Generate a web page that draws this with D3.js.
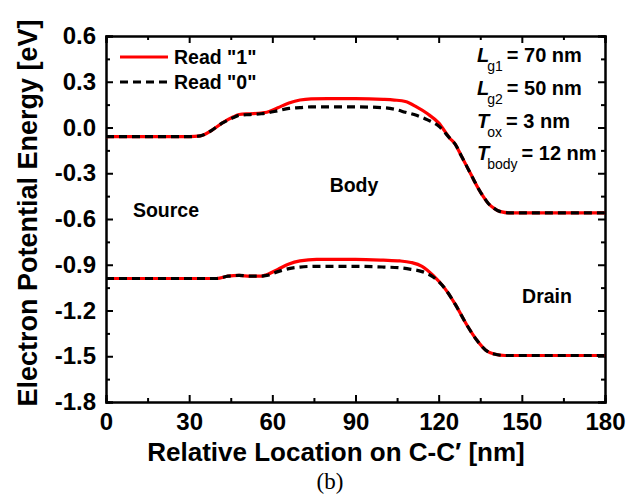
<!DOCTYPE html>
<html>
<head>
<meta charset="utf-8">
<script src="https://cdn.jsdelivr.net/npm/d3@7"></script>
<style>
  body { margin: 0; background: #fff; }
  text { font-family: Arial, "Liberation Sans", sans-serif; }
</style>
</head>
<body>
<svg id="chart" width="644" height="504"></svg>
<script>
// upper band (Read "1" solid red / Read "0" dashed black)
var upperX = [0, 30, 34, 38, 42, 46, 48, 52, 56, 58, 62, 66, 70, 74, 80, 90, 100, 104, 108, 112, 116, 120, 124, 126, 128, 130, 132, 134, 136, 138, 140, 142, 146, 150, 160, 170, 180];
var upperRead1 = [-0.06, -0.06, -0.055, -0.02, 0.03, 0.07, 0.085, 0.09, 0.095, 0.10, 0.13, 0.16, 0.18, 0.188, 0.19, 0.19, 0.185, 0.18, 0.17, 0.135, 0.09, 0.03, -0.07, -0.11, -0.18, -0.25, -0.32, -0.39, -0.45, -0.50, -0.53, -0.55, -0.56, -0.56, -0.56, -0.56, -0.56];
var upperRead0 = [-0.06, -0.06, -0.055, -0.02, 0.03, 0.065, 0.08, 0.085, 0.09, 0.095, 0.11, 0.125, 0.13, 0.135, 0.135, 0.135, 0.13, 0.12, 0.10, 0.08, 0.05, 0.01, -0.07, -0.11, -0.18, -0.25, -0.32, -0.39, -0.45, -0.50, -0.53, -0.55, -0.56, -0.56, -0.56, -0.56, -0.56];

// lower band
var lowerX = [0, 40, 44, 48, 52, 56, 58, 62, 66, 70, 76, 90, 100, 106, 110, 114, 118, 122, 126, 130, 134, 137, 140, 144, 160, 180];
var lowerRead1 = [-0.99, -0.99, -0.975, -0.97, -0.975, -0.975, -0.965, -0.93, -0.895, -0.875, -0.865, -0.865, -0.87, -0.875, -0.885, -0.91, -0.97, -1.05, -1.16, -1.29, -1.40, -1.46, -1.485, -1.495, -1.495, -1.495];
var lowerRead0 = [-0.99, -0.99, -0.975, -0.97, -0.975, -0.975, -0.97, -0.945, -0.925, -0.915, -0.91, -0.91, -0.915, -0.92, -0.93, -0.945, -0.98, -1.05, -1.16, -1.29, -1.40, -1.46, -1.485, -1.495, -1.495, -1.495];

var xTicks = [0, 30, 60, 90, 120, 150, 180];
var yTicks = [0.6, 0.3, 0.0, -0.3, -0.6, -0.9, -1.2, -1.5, -1.8];
var legendLabels = ['Read "1"', 'Read "0"'];

(function () {
    var svg = d3.select('#chart');
    var pLeft = 106, pRight = 605, pTop = 36, pBottom = 402;

    var x = d3.scaleLinear().domain([0, 180]).range([pLeft, pRight]);
    var y = d3.scaleLinear().domain([-1.8, 0.6]).range([pBottom, pTop]);

    var minorX = d3.range(15, 180, 30);
    var minorY = d3.range(-1.65, 0.6, 0.3);
    var fmtY = function (d) { return d3.format('.1f')(d).replace('\u2212', '-'); };

    function styleAxis(g) {
        g.select('.domain').attr('stroke', '#000').attr('stroke-width', 2);
        g.selectAll('.tick line').attr('stroke', '#000').attr('stroke-width', 2);
        g.selectAll('.tick text').attr('font-size', 24).attr('font-weight', 'bold')
            .attr('font-family', 'Arial, "Liberation Sans", sans-serif').attr('fill', '#000');
    }

    // bottom
    svg.append('g').attr('transform', 'translate(0,' + pBottom + ')')
        .call(d3.axisBottom(x).tickValues(xTicks).tickSize(-7).tickPadding(11).tickFormat(d3.format('d')))
        .call(styleAxis);
    svg.append('g').attr('transform', 'translate(0,' + pBottom + ')')
        .call(d3.axisBottom(x).tickValues(minorX).tickSize(-4).tickFormat(''))
        .call(styleAxis);
    // top
    svg.append('g').attr('transform', 'translate(0,' + pTop + ')')
        .call(d3.axisTop(x).tickValues(xTicks).tickSize(-7).tickFormat(''))
        .call(styleAxis);
    svg.append('g').attr('transform', 'translate(0,' + pTop + ')')
        .call(d3.axisTop(x).tickValues(minorX).tickSize(-4).tickFormat(''))
        .call(styleAxis);
    // left
    svg.append('g').attr('transform', 'translate(' + pLeft + ',0)')
        .call(d3.axisLeft(y).tickValues(yTicks).tickSize(-7).tickPadding(10).tickFormat(fmtY))
        .call(styleAxis);
    svg.append('g').attr('transform', 'translate(' + pLeft + ',0)')
        .call(d3.axisLeft(y).tickValues(minorY).tickSize(-4).tickFormat(''))
        .call(styleAxis);
    // right
    svg.append('g').attr('transform', 'translate(' + pRight + ',0)')
        .call(d3.axisRight(y).tickValues(yTicks).tickSize(-7).tickFormat(''))
        .call(styleAxis);
    svg.append('g').attr('transform', 'translate(' + pRight + ',0)')
        .call(d3.axisRight(y).tickValues(minorY).tickSize(-4).tickFormat(''))
        .call(styleAxis);

    var line = d3.line()
        .x(function (d) { return x(d[0]); })
        .y(function (d) { return y(d[1]); })
        .curve(d3.curveMonotoneX);

    function draw(xs, ys, color, dash) {
        svg.append('path')
            .datum(d3.zip(xs, ys))
            .attr('d', line)
            .attr('fill', 'none')
            .attr('stroke', color)
            .attr('stroke-width', 3.2)
            .attr('stroke-dasharray', dash);
    }
    draw(upperX, upperRead1, '#ff0000', null);
    draw(lowerX, lowerRead1, '#ff0000', null);
    draw(upperX, upperRead0, '#000', '8,5');
    draw(lowerX, lowerRead0, '#000', '8,5');

    // legend
    var legend = svg.append('g');
    legendLabels.forEach(function (lab, i) {
        var ly = 57 + i * 25;
        legend.append('line').attr('x1', 120).attr('x2', 168).attr('y1', ly).attr('y2', ly)
            .attr('stroke', i === 0 ? '#ff0000' : '#000').attr('stroke-width', 3.2)
            .attr('stroke-dasharray', i === 0 ? null : '8,5');
        legend.append('text').attr('x', 174).attr('y', ly + 7).attr('font-size', 19.5)
            .attr('font-weight', 'bold').text(lab);
    });

    // region labels
    function label(t, cx, cy) {
        svg.append('text').attr('x', cx).attr('y', cy).attr('text-anchor', 'middle')
            .attr('font-size', 19.5).attr('font-weight', 'bold').text(t);
    }
    label('Source', 166, 217);
    label('Body', 354, 192);
    label('Drain', 547, 303);

    // device parameters
    var params = [['L', 'g1', '= 70 nm'], ['L', 'g2', '= 50 nm'], ['T', 'ox', '= 3 nm'], ['T', 'body', '= 12 nm']];
    params.forEach(function (p, i) {
        var t = svg.append('text').attr('x', 477).attr('y', 62 + i * 32.8).attr('font-size', 20).attr('font-weight', 'bold');
        t.append('tspan').attr('font-style', 'italic').text(p[0]);
        t.append('tspan').attr('font-weight', 'normal').attr('font-size', 14).attr('dy', 9).attr('dx', -2).text(p[1]);
        t.append('tspan').attr('dy', -9).attr('dx', 4).text(p[2]);
    });

    // axis titles
    svg.append('text').attr('x', 336).attr('y', 461).attr('text-anchor', 'middle')
        .attr('font-size', 26).attr('font-weight', 'bold').text('Relative Location on C-C\u2032 [nm]');
    svg.append('text').attr('transform', 'translate(37,213) rotate(-90)')
        .attr('text-anchor', 'middle').attr('font-size', 27).attr('font-weight', 'bold')
        .text('Electron Potential Energy [eV]');
    svg.append('text').attr('x', 330).attr('y', 489).attr('text-anchor', 'middle')
        .attr('font-size', 23)
        .style('font-family', '"Liberation Serif", "Times New Roman", serif').text('(b)');
})();
</script>
</body>
</html>
